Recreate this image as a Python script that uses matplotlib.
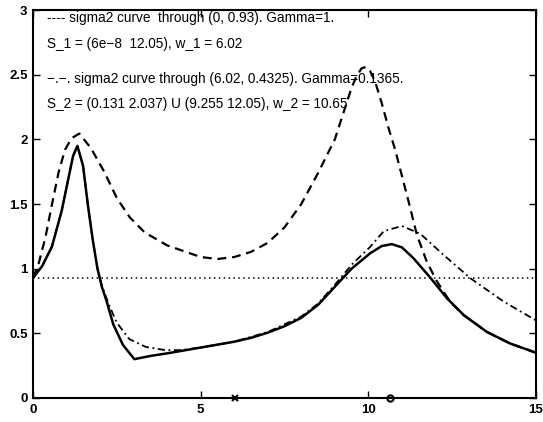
import matplotlib
matplotlib.use("Agg")
import matplotlib.pyplot as plt

# solid curve
x_solid = [0, 0.27, 0.56, 0.85, 1.05, 1.19, 1.32, 1.49, 1.63, 1.78, 1.92, 2.05, 2.19, 2.39,
           2.68, 3.02, 3.5, 4.0, 5.0, 6.0, 6.5, 7.0, 7.5, 8.0, 8.5, 9.0, 9.5, 10.06, 10.4,
           10.7, 11.0, 11.35, 11.85, 12.35, 12.85, 13.54, 14.24, 15.0]
y_solid = [0.93, 1.02, 1.17, 1.445, 1.695, 1.87, 1.95, 1.795, 1.50, 1.22, 1.0, 0.86,
           0.75, 0.57, 0.41, 0.30, 0.325, 0.345, 0.39, 0.435, 0.465, 0.505, 0.555, 0.62,
           0.72, 0.86, 1.0, 1.12, 1.175, 1.19, 1.165, 1.08, 0.93, 0.77, 0.64, 0.51, 0.42, 0.35]

# dashed curve (Gamma = 1)
x_dash = [0, 0.17, 0.37, 0.56, 0.76, 0.95, 1.15, 1.38, 1.73, 2.12, 2.5, 2.89, 3.33, 4.0, 5.0,
          5.5, 6.0, 6.5, 7.0, 7.5, 8.0, 8.5, 9.0, 9.25, 9.5, 9.65, 9.8, 9.92, 10.05, 10.2,
          10.4, 10.6, 10.8, 11.0, 11.2, 11.45, 11.75, 12.05, 12.45, 12.85, 13.54, 14.24, 15.0]
y_dash = [0.93, 1.045, 1.245, 1.495, 1.745, 1.92, 2.01, 2.045, 1.93, 1.75, 1.545, 1.395, 1.28,
          1.18, 1.09, 1.075, 1.09, 1.13, 1.2, 1.32, 1.5, 1.74, 2.0, 2.2, 2.40, 2.49, 2.55,
          2.56, 2.53, 2.45, 2.28, 2.09, 1.92, 1.72, 1.52, 1.26, 1.05, 0.9, 0.74, 0.64, 0.51,
          0.42, 0.35]

# dash-dot curve (Gamma = 0.1365)
x_dd = [0, 0.27, 0.56, 0.85, 1.05, 1.19, 1.32, 1.49, 1.63, 1.78, 1.92, 2.05, 2.24, 2.49, 2.87,
        3.36, 3.94, 4.4, 5.0, 6.0, 7.0, 8.0, 8.5, 9.0, 9.5, 10.06, 10.46, 11.0, 11.55, 12.25,
        13.05, 14.04, 15.0]
y_dd = [0.93, 1.02, 1.17, 1.445, 1.695, 1.87, 1.95, 1.795, 1.50, 1.22, 1.0, 0.87, 0.735,
        0.585, 0.455, 0.395, 0.37, 0.37, 0.39, 0.435, 0.51, 0.63, 0.73, 0.875, 1.03, 1.17,
        1.29, 1.33, 1.27, 1.105, 0.925, 0.745, 0.60]

sigma_level = 0.93
x_cross = 6.02
x_circle = 10.65

notes = ["---- sigma2 curve  through (0, 0.93). Gamma=1.",
         "S_1 = (6e\u22128  12.05), w_1 = 6.02",
         "\u2212.\u2212. sigma2 curve through (6.02, 0.4325). Gamma=0.1365.",
         "S_2 = (0.131 2.037) U (9.255 12.05), w_2 = 10.65"]
note_y = [2.94, 2.74, 2.47, 2.27]

plt.rcParams['font.family'] = ['Liberation Sans', 'DejaVu Sans']

fig = plt.figure(figsize=(5.43, 4.22), dpi=100)
ax = fig.add_axes([0.061, 0.057, 0.926, 0.919])

ax.plot(x_solid, y_solid, color='black', lw=1.8)
ax.plot(x_dash, y_dash, color='black', lw=1.6, dashes=(4, 2.6))
ax.plot(x_dd, y_dd, color='black', lw=1.3, dashes=(4, 2, 1, 2))
ax.plot([0, 15], [sigma_level, sigma_level], color='black', lw=1.1, dashes=(1, 2.2))

ax.plot([x_cross], [0], marker='x', color='black', ms=5, mew=1.5, clip_on=False)
ax.plot([x_circle], [0], marker='o', mfc='white', mec='black', ms=4.5, mew=1.5, clip_on=False)

for txt, ty in zip(notes, note_y):
    ax.text(0.4, ty, txt, fontsize=9.8, va='center', ha='left')

ax.set_xlim(0, 15)
ax.set_ylim(0, 3)
ax.set_xticks([0, 5, 10, 15])
ax.set_yticks([0, 0.5, 1, 1.5, 2, 2.5, 3])
ax.set_yticklabels(['0', '0.5', '1', '1.5', '2', '2.5', '3'])
ax.tick_params(direction='in', top=True, right=True, length=5, width=1,
               labelsize=9.5, pad=4)
for lab in ax.get_xticklabels() + ax.get_yticklabels():
    lab.set_fontweight('bold')
for sp in ax.spines.values():
    sp.set_linewidth(1.5)

fig.savefig("out.png", dpi=100)
